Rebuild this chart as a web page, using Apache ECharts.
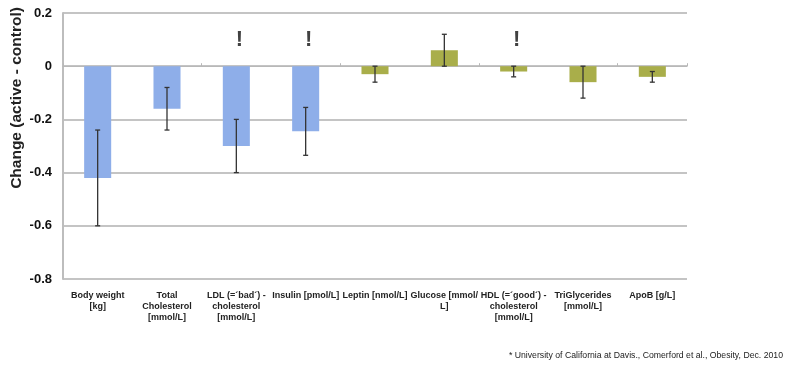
<!DOCTYPE html>
<html>
<head>
<meta charset="utf-8">
<script src="https://cdn.jsdelivr.net/npm/echarts@6/dist/echarts.min.js"></script>
<style>html,body{margin:0;padding:0;background:#fff;}#c{width:792px;height:366px;}</style>
</head>
<body>
<div id="c"></div>
<script>
const categories = ["Body weight\n[kg]", "Total\nCholesterol\n[mmol/L]", "LDL (=´bad´) -\ncholesterol\n[mmol/L]", "Insulin [pmol/L]", "Leptin [nmol/L]", "Glucose [mmol/\nL]", "HDL (=´good´) -\ncholesterol\n[mmol/L]", "TriGlycerides\n[mmol/L]", "ApoB [g/L]"];
const values = [-0.42, -0.16, -0.30, -0.245, -0.03, 0.06, -0.02, -0.06, -0.04];
const errLow = [-0.60, -0.24, -0.40, -0.335, -0.06, 0.00, -0.04, -0.12, -0.06];
const errHigh = [-0.24, -0.08, -0.20, -0.155, 0.00, 0.12, 0.00, 0.00, -0.02];
const groupA = [true, true, true, true, false, false, false, false, false];
const flagged = [false, false, true, true, false, false, true, false, false];
const flagLevel = 0.1;
const yTicks = [-0.8, -0.6, -0.4, -0.2, 0, 0.2];
const yTitle = 'Change (active - control)';
const footnote = "* University of California at Davis., Comerford et al., Obesity, Dec. 2010";

const blue = '#8eaee9', olive = '#a9ae4a';
const chart = echarts.init(document.getElementById('c'), null, {renderer: 'canvas'});
const barData = values.map((v, i) => ({value: v, itemStyle: {color: groupA[i] ? blue : olive}}));
const errData = categories.map((c, i) => [i, errLow[i], errHigh[i]]);
const flagData = categories.map((c, i) => flagged[i] ? [i, flagLevel] : null).filter(d => d);

chart.setOption({
  animation: false,
  grid: {left: 63, right: 105, top: 13, bottom: 87, outerBoundsMode: 'none', containLabel: false},
  title: {text: footnote, right: 4, bottom: 1, textStyle: {fontFamily: 'Liberation Sans, Arial', fontSize: 8.7, fontWeight: 'normal', color: '#222'}},
  graphic: [{type: 'text', x: 17, y: 98, rotation: Math.PI / 2,
    style: {text: yTitle, align: 'center', verticalAlign: 'middle', fontFamily: 'Liberation Sans, Arial', fontSize: 15.5, fontWeight: 'bold', fill: '#222'}}],
  xAxis: [
    {type: 'category', data: categories, position: 'bottom',
     axisLine: {show: false, onZero: false}, axisTick: {show: false},
     axisLabel: {interval: 0, margin: 11, fontFamily: 'Liberation Sans, Arial', fontSize: 9, fontWeight: 'bold', color: '#222', lineHeight: 11}},
    {type: 'category', data: categories, position: 'top',
     axisLine: {show: true, onZero: true, lineStyle: {color: '#b8b8b8', width: 1}},
     axisTick: {show: true, length: 3, inside: false, lineStyle: {color: '#b8b8b8'}},
     axisLabel: {show: false}}
  ],
  yAxis: {type: 'value', min: -0.8, max: 0.2, interval: 0.2,
    axisLine: {show: true, lineStyle: {color: '#bdbdbd', width: 2}},
    axisTick: {show: false},
    splitLine: {lineStyle: {color: '#c4c4c4', width: 2}},
    axisLabel: {margin: 11, fontFamily: 'Liberation Sans, Arial', fontSize: 13, fontWeight: 'bold', color: '#111',
      formatter: v => { const t = yTicks.find(x => Math.abs(x - v) < 1e-9); return t === 0 ? '0' : String(t); }}
  },
  series: [
    {type: 'bar', data: barData, barWidth: '39%', xAxisIndex: 0, z: 2},
    {type: 'custom', xAxisIndex: 0, z: 5, data: errData,
     renderItem: (params, api) => {
       const lo = api.coord([api.value(0), api.value(1)]);
       const hi = api.coord([api.value(0), api.value(2)]);
       const x = lo[0], c = 2.5;
       const st = {stroke: '#333', lineWidth: 1.3};
       return {type: 'group', children: [
         {type: 'line', shape: {x1: x, y1: lo[1], x2: x, y2: hi[1]}, style: st},
         {type: 'line', shape: {x1: x - c, y1: lo[1], x2: x + c, y2: lo[1]}, style: st},
         {type: 'line', shape: {x1: x - c, y1: hi[1], x2: x + c, y2: hi[1]}, style: st}
       ]};
     }},
    {type: 'scatter', xAxisIndex: 0, data: flagData, symbolSize: 1, itemStyle: {color: 'rgba(0,0,0,0)'},
     label: {show: true, position: 'inside', offset: [3, 0], formatter: '!', fontFamily: 'Liberation Sans, Arial', fontSize: 22, fontWeight: 'bold', color: '#111'}}
  ]
});
</script>
</body>
</html>
